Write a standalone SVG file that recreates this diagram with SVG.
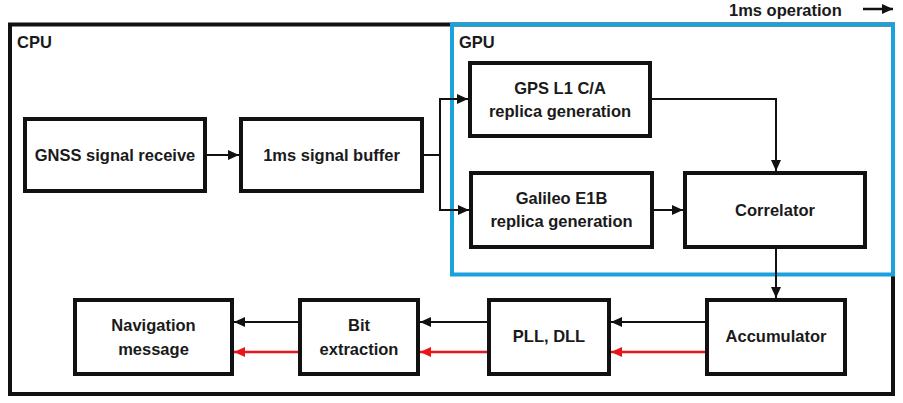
<svg xmlns="http://www.w3.org/2000/svg" width="903" height="403" viewBox="0 0 903 403">
<style>
text{font-family:"Liberation Sans",Arial,sans-serif;font-weight:bold;font-size:16.5px;fill:#1a1a1a}
.c{text-anchor:middle}
.box{fill:#fff;stroke:#111;stroke-width:4}
.ln{fill:none;stroke:#111;stroke-width:2}
.rd{fill:none;stroke:#e8151b;stroke-width:2.5}
</style>
<defs>
<marker id="ah" markerUnits="userSpaceOnUse" markerWidth="12" markerHeight="12" refX="11" refY="5" orient="auto"><path d="M0,0 L11,5 L0,10 Z" fill="#111"/></marker>
<marker id="ahr" markerUnits="userSpaceOnUse" markerWidth="12" markerHeight="12" refX="11" refY="5" orient="auto"><path d="M0,0 L11,5 L0,10 Z" fill="#e8151b"/></marker>
</defs>
<rect width="903" height="403" fill="#fff"/>
<g id="cpu">
<rect x="10" y="24.5" width="883" height="369.5" fill="none" stroke="#111" stroke-width="4"/>
<text x="17" y="48">CPU</text>
</g>
<g id="gpu">
<rect x="452" y="24.5" width="441" height="250" fill="none" stroke="#1ba1db" stroke-width="4"/>
<text x="459" y="48">GPU</text>
</g>
<g id="legend">
<text x="729" y="15.5" style="font-size:16.5px">1ms operation</text>
<line x1="863" y1="9" x2="893" y2="9" stroke="#111" stroke-width="2.5" marker-end="url(#ah)"/>
</g>
<g id="gnss">
<rect class="box" x="25" y="119" width="180" height="72"/>
<text class="c" x="115" y="160.5">GNSS signal receive</text>
</g>
<g id="buffer">
<rect class="box" x="241" y="119" width="181" height="72"/>
<text class="c" x="331.5" y="160.5">1ms signal buffer</text>
</g>
<g id="gps">
<rect class="box" x="470" y="63" width="180" height="73"/>
<text class="c" x="560" y="94">GPS L1 C/A</text>
<text class="c" x="560" y="117">replica generation</text>
</g>
<g id="galileo">
<rect class="box" x="471" y="173" width="181" height="74"/>
<text class="c" x="561.5" y="203.5">Galileo E1B</text>
<text class="c" x="561.5" y="227">replica generation</text>
</g>
<g id="correlator">
<rect class="box" x="685" y="173" width="180" height="74"/>
<text class="c" x="775" y="215.5">Correlator</text>
</g>
<g id="accumulator">
<rect class="box" x="707" y="300" width="138" height="74"/>
<text class="c" x="776" y="342">Accumulator</text>
</g>
<g id="pll">
<rect class="box" x="489" y="300" width="120" height="74"/>
<text class="c" x="549" y="342">PLL, DLL</text>
</g>
<g id="bit">
<rect class="box" x="300" y="300" width="118" height="74"/>
<text class="c" x="359" y="331">Bit</text>
<text class="c" x="359" y="354.5">extraction</text>
</g>
<g id="nav">
<rect class="box" x="75" y="300" width="157" height="74"/>
<text class="c" x="153.5" y="331">Navigation</text>
<text class="c" x="153.5" y="354.5">message</text>
</g>
<g id="connectors">
<line class="ln" x1="207" y1="155" x2="239" y2="155" marker-end="url(#ah)"/>
<polyline class="ln" points="424,155 440,155"/>
<polyline class="ln" points="440,210 440,99 468,99" marker-end="url(#ah)"/>
<polyline class="ln" points="440,155 440,210 469,210" marker-end="url(#ah)"/>
<polyline class="ln" points="652,99 776,99 776,171" marker-end="url(#ah)"/>
<line class="ln" x1="654" y1="210" x2="683" y2="210" marker-end="url(#ah)"/>
<line class="ln" x1="776" y1="249" x2="776" y2="298" marker-end="url(#ah)"/>
<line class="ln" x1="705" y1="322" x2="611" y2="322" marker-end="url(#ah)"/>
<line class="rd" x1="705" y1="352" x2="611" y2="352" marker-end="url(#ahr)"/>
<line class="ln" x1="487" y1="322" x2="420" y2="322" marker-end="url(#ah)"/>
<line class="rd" x1="487" y1="352" x2="420" y2="352" marker-end="url(#ahr)"/>
<line class="ln" x1="298" y1="322" x2="234" y2="322" marker-end="url(#ah)"/>
<line class="rd" x1="298" y1="352" x2="234" y2="352" marker-end="url(#ahr)"/>
</g>
</svg>
